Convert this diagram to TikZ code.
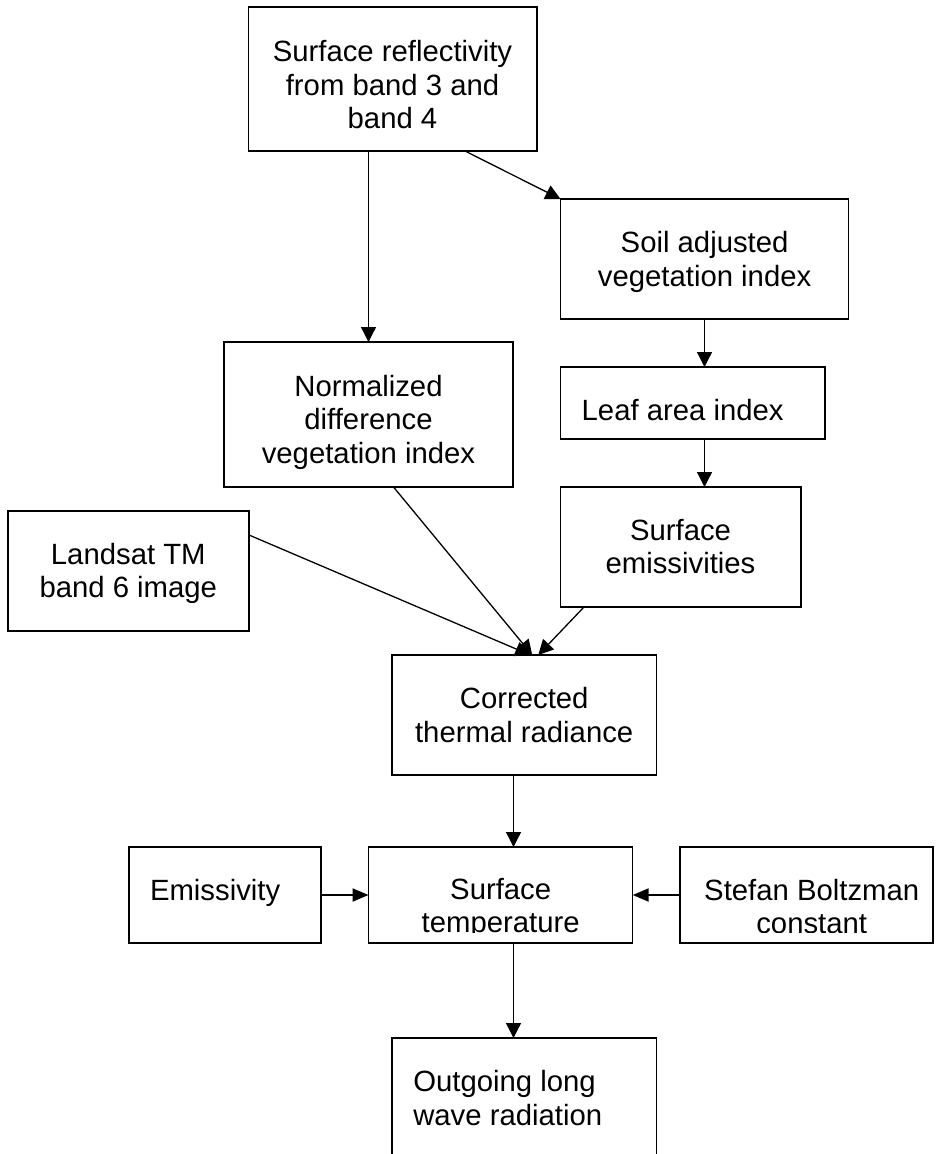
\documentclass[tikz,border=0pt]{standalone}
\usepackage{fontspec}
\setmainfont{Liberation Sans}
\usetikzlibrary{arrows.meta}
\begin{document}
\begin{tikzpicture}[x=1pt,y=-1pt,
  box/.style={draw, line width=1.4pt, inner sep=0pt, outer sep=0pt},
  txt/.style={font=\fontsize{29.3}{33.4}\selectfont, inner sep=0pt, outer sep=0pt, align=center, anchor=base},
  ltxt/.style={font=\fontsize{29.3}{33.4}\selectfont, inner sep=0pt, outer sep=0pt, align=left, anchor=base west},
  conn/.style={line width=1.3pt, -{Triangle[length=15pt,width=15pt]}},
  hconn/.style={line width=2pt, -{Triangle[length=16pt,width=13pt]}}]
\clip (0,0) rectangle (935,1154);
\useasboundingbox (0,0) rectangle (935,1154);
% boxes
\node[box, minimum width=288.5pt, minimum height=144pt] (b1) at (392.75,79) {};
\node[box, minimum width=288pt, minimum height=120pt] (soil) at (704.5,259) {};
\node[box, minimum width=289pt, minimum height=145pt] (ndvi) at (368.5,414.5) {};
\node[box, minimum width=264.5pt, minimum height=72pt] (leaf) at (692.75,403) {};
\node[box, minimum width=240.5pt, minimum height=120pt] (emis) at (680.75,547) {};
\node[box, minimum width=241pt, minimum height=120pt] (landsat) at (128.5,571) {};
\node[box, minimum width=264.5pt, minimum height=120pt] (corr) at (524.25,715) {};
\node[box, minimum width=192pt, minimum height=96pt] (emiss) at (225,895) {};
\node[box, minimum width=264.2pt, minimum height=96pt] (stemp) at (500.6,895) {};
\node[box, minimum width=253pt, minimum height=96pt] (stefan) at (806.5,895) {};
\node[box, minimum width=264.5pt, minimum height=132pt] (out) at (524.25,1104) {};
% texts (anchor = baseline of the last line)
\node[txt] (t1) at (392.5,128.5) {Surface reflectivity\\from band 3 and\\band 4};
\node[txt] (t2) at (704.6,286.1) {Soil adjusted\\vegetation index};
\node[ltxt] (t3) at (581.7,420) {Leaf area index};
\node[txt] (t4) at (368.5,463.1) {Normalized\\difference\\vegetation index};
\node[txt] (t5) at (128.3,597.4) {Landsat TM\\band 6 image};
\node[txt] (t6) at (680.5,573.4) {Surface\\emissivities};
\node[txt] (t7) at (524.2,742.2) {Corrected\\thermal radiance};
\node[ltxt] (t8) at (150,900) {Emissivity};
\begin{scope}
\clip (368.5,847) rectangle (632.7,932);
\node[txt] (t9) at (500.7,932.7) {Surface\\temperature};
\end{scope}
\begin{scope}
\clip (680,847) rectangle (933,932.5);
\node[txt] (t10) at (811.7,933.4) {Stefan Boltzman\\constant};
\end{scope}
\node[ltxt] (t11) at (413.3,1125.1) {Outgoing long\\wave radiation};
% connectors
\coordinate (vx) at (513.5,0);
\draw[conn] (ndvi.north |- b1.south) -- (ndvi.north);
\draw[conn] ([xshift=72.25pt]b1.south) -- (soil.north west);
\draw[conn] (soil.south) -- (soil.south |- leaf.north);
\draw[conn] (soil.south |- leaf.south) -- (soil.south |- emis.north);
\draw[conn] ([yshift=36pt]landsat.east) -- ([xshift=6pt]corr.north);
\draw[conn] ([xshift=25pt]ndvi.south) -- ([xshift=8pt]corr.north);
\draw[conn] ([xshift=23.5pt]emis.south west) -- ([xshift=14pt]corr.north);
\draw[conn] (vx |- corr.south) -- (vx |- stemp.north);
\draw[hconn] (emiss.east) -- (stemp.west);
\draw[hconn] (stefan.west) -- (stemp.east);
\draw[conn] (vx |- stemp.south) -- (vx |- out.north);
\end{tikzpicture}
\end{document}
